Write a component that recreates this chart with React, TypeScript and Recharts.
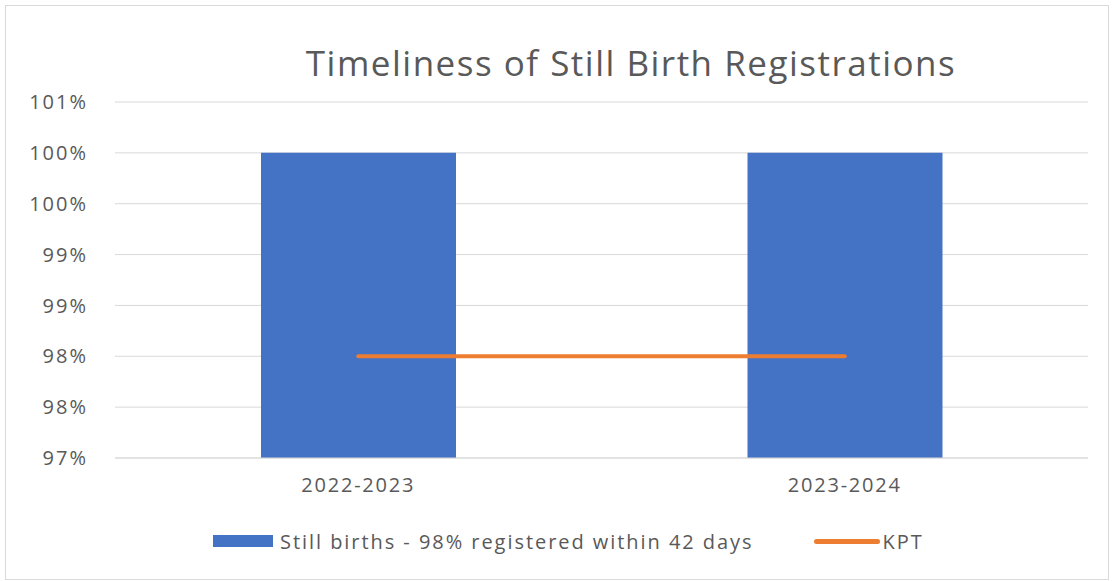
import { ComposedChart, Bar, Line, XAxis, YAxis, CartesianGrid, Legend } from 'recharts';

const periods = ['2022-2023', '2023-2024'];
const stillBirths = [100, 100];
const kpt = [98, 98];
const yTicks = [97, 97.5, 98, 98.5, 99, 99.5, 100, 100.5];

const data = periods.map((p, i) => ({ period: p, stillBirths: stillBirths[i], kpt: kpt[i] }));

const FONT = '"Open Sans", "Noto Sans", sans-serif';
const TEXT = '#595959';

function LegendContent() {
  return (
    <div style={{ display: 'flex', alignItems: 'center', paddingLeft: 213, fontFamily: FONT, fontSize: 20, letterSpacing: 1.95, color: TEXT, height: 40 }}>
      <span style={{ display: 'inline-block', width: 60, height: 12, background: '#4472C4', marginRight: 7 }} />
      <span>Still births - 98% registered within 42 days</span>
      <span style={{ flex: 'none', display: 'inline-block', width: 66, height: 5, borderRadius: 3, background: '#ED7D31', marginLeft: 60, marginRight: 3 }} />
      <span>KPT</span>
    </div>
  );
}

export default function App() {
  return (
    <div style={{ position: 'absolute', left: 0, top: 0, width: 1114, height: 581, background: '#fff' }}>
      <div style={{ position: 'absolute', left: 5, top: 5, width: 1102, height: 573, border: '1px solid #d9d9d9' }} />
      <div style={{ position: 'absolute', left: 0, width: 1262, top: 39, textAlign: 'center', fontFamily: FONT, fontSize: 35, letterSpacing: 1.5, color: TEXT }}>
        Timeliness of Still Birth Registrations
      </div>
      <div style={{ position: 'absolute', left: 0, top: 0 }}>
        <ComposedChart width={1114} height={581} data={data} margin={{ top: 102, right: 26, bottom: 20, left: 0 }}>
          <CartesianGrid vertical={false} stroke="#d9d9d9" />
          <XAxis
            dataKey="period"
            height={63}
            tickLine={false}
            tickSize={0}
            tickMargin={20}
            axisLine={{ stroke: '#d9d9d9' }}
            tick={{ fill: TEXT, fontSize: 20, fontFamily: FONT, letterSpacing: 1.8 }}
          />
          <YAxis
            domain={[97, 100.5]}
            ticks={yTicks}
            interval={0}
            width={115}
            axisLine={false}
            tickLine={false}
            tickSize={0}
            tickMargin={27}
            tickFormatter={(v: number) => `${Math.round(v)}%`}
            tick={{ fill: TEXT, fontSize: 20, fontFamily: FONT, letterSpacing: 2 }}
          />
          <Legend verticalAlign="bottom" height={40} content={<LegendContent />} />
          <Bar dataKey="stillBirths" name="Still births - 98% registered within 42 days" fill="#4472C4" barSize={195} isAnimationActive={false} />
          <Line dataKey="kpt" name="KPT" stroke="#ED7D31" strokeWidth={4} dot={false} strokeLinecap="round" isAnimationActive={false} />
        </ComposedChart>
      </div>
    </div>
  );
}
